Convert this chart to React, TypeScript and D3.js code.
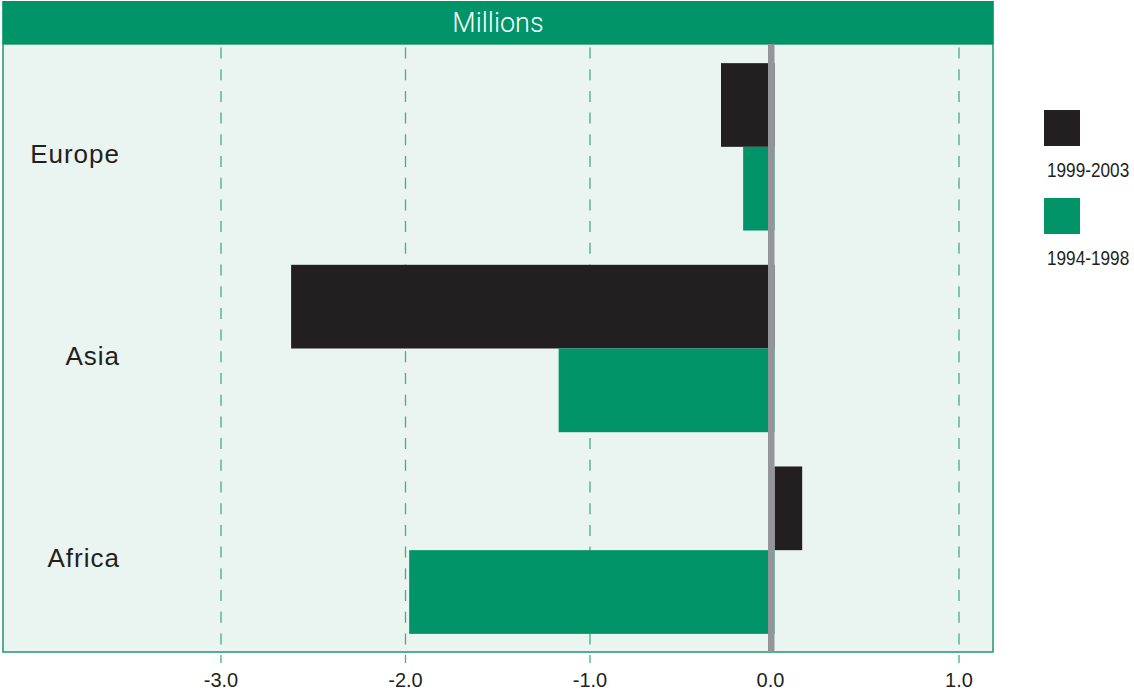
import React from "react";
import * as d3 from "d3";

// Regions, top to bottom
const regions = ["Europe", "Asia", "Africa"];
// Net change in millions, per period
const recent = [-0.29, -2.62, 0.15]; // 1999-2003
const earlier = [-0.17, -1.17, -1.98]; // 1994-1998
const tickValues = [-3, -2, -1, 0, 1];
const gridValues = [-3, -2, -1, 1];
const seriesLabels = ["1999-2003", "1994-1998"];
const headerTitle = "Millions";

const W = 1134;
const H = 691;
const GREEN = "#009468";
const BLACK = "#231f20";
const PANEL_BG = "#eaf4f0";
const GRID = "#45ad88";
const ZERO = "#939598";
const FONT = "'Liberation Sans', Arial, Helvetica, sans-serif";

// hyphen-minus tick labels, one decimal
const fmtTick = (v: number) => d3.format(".1f")(v).replace("\u2212", "-");

export default function App() {
  const panel = { left: 3, right: 993, top: 1, header: 44, bottom: 652 };
  const x = d3.scaleLinear().domain([-3, 1]).range([221, 959]);
  const y = d3.scaleBand<string>().domain(regions).range([46, 651]).paddingInner(0.17).paddingOuter(0.085);
  const barH = y.bandwidth() / 2;
  const x0 = x(0);

  const bars: { key: string; x: number; y: number; w: number; h: number; fill: string }[] = [];
  regions.forEach((r, i) => {
    const top = y(r)!;
    const a = recent[i];
    const b = earlier[i];
    bars.push({ key: r + "-a", x: Math.min(x(a), x0), y: top, w: Math.abs(x(a) - x0), h: barH, fill: BLACK });
    bars.push({ key: r + "-b", x: Math.min(x(b), x0), y: top + barH, w: Math.abs(x(b) - x0), h: barH, fill: GREEN });
  });

  const legend = [
    { label: seriesLabels[0], fill: BLACK, top: 110 },
    { label: seriesLabels[1], fill: GREEN, top: 198 },
  ];

  return (
    <svg width={W} height={H} style={{ position: "absolute", left: 0, top: 0, background: "#fff" }}>
      {/* plot panel */}
      <rect x={panel.left} y={panel.header} width={panel.right - panel.left} height={panel.bottom - panel.header}
        fill={PANEL_BG} stroke="#2a9f74" strokeWidth={1.6} />
      {/* header band */}
      <rect x={panel.left - 0.8} y={panel.top} width={panel.right - panel.left + 1.6} height={panel.header - panel.top} fill={GREEN} />
      <text x={(panel.left + panel.right) / 2} y={32} textAnchor="middle" fill="#fff"
        fontFamily="Roboto, 'Liberation Sans', sans-serif" fontSize={27} fontWeight={300}>{headerTitle}</text>

      {/* dashed gridlines */}
      {gridValues.map((v) => (
        <line key={v} x1={x(v)} x2={x(v)} y1={47.5} y2={663} stroke={GRID} strokeWidth={1.3} strokeDasharray="11 10.7" />
      ))}

      {/* bars */}
      {bars.map((b) => (
        <rect key={b.key} x={b.x} y={b.y} width={b.w} height={b.h} fill={b.fill} />
      ))}

      {/* zero line */}
      <rect x={x0 - 6.5} y={panel.header} width={6.5} height={panel.bottom - panel.header} fill={ZERO} />

      {/* region labels */}
      {regions.map((r) => (
        <text key={r} x={120} y={y(r)! + barH + 16.5} textAnchor="end" fill={BLACK}
          fontFamily={FONT} fontSize={26} letterSpacing={1}>{r}</text>
      ))}

      {/* tick labels */}
      {tickValues.map((v) => (
        <text key={v} x={x(v) - (v === 0 ? 4 : 0)} y={687} textAnchor="middle" fill={BLACK}
          fontFamily={FONT} fontSize={20}>{fmtTick(v)}</text>
      ))}

      {/* legend: swatch above a condensed label */}
      {legend.map((l) => (
        <g key={l.label}>
          <rect x={1044} y={l.top} width={36} height={36} fill={l.fill} />
          <g transform={`translate(1047,${l.top + 67}) scale(0.86,1)`}>
            <text x={0} y={0} fill={BLACK} fontFamily={FONT} fontSize={20}>{l.label}</text>
          </g>
        </g>
      ))}
    </svg>
  );
}
